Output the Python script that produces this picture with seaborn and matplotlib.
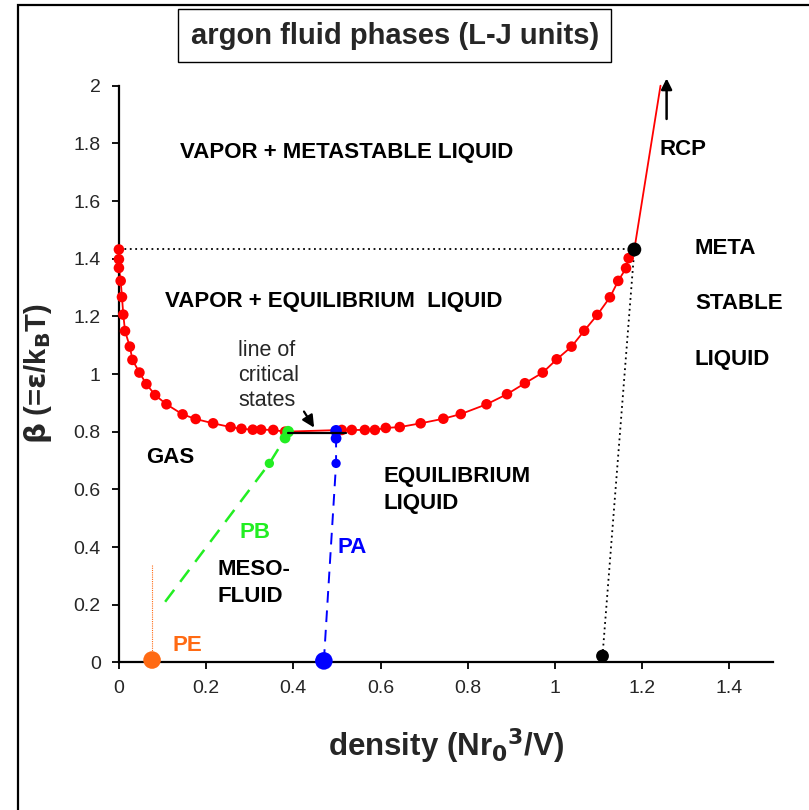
import matplotlib
matplotlib.use("Agg")
import matplotlib.pyplot as plt
from matplotlib.patches import Rectangle
import seaborn as sns

# coexistence curve dots (density, beta)
coex_x = [0.0, 0.0, 0.0, 0.004, 0.007, 0.010, 0.014, 0.025, 0.031, 0.047, 0.063,
          0.083, 0.109, 0.146, 0.176, 0.216, 0.256, 0.281, 0.307, 0.326, 0.354, 0.381,
          0.511, 0.534, 0.564, 0.587, 0.612, 0.644, 0.692, 0.744, 0.784, 0.843,
          0.890, 0.931, 0.972, 1.004, 1.038, 1.067, 1.097, 1.126, 1.145, 1.163, 1.169]
coex_y = [1.432, 1.398, 1.368, 1.323, 1.267, 1.206, 1.149, 1.095, 1.049, 1.005, 0.965,
          0.927, 0.895, 0.860, 0.844, 0.829, 0.816, 0.810, 0.807, 0.807, 0.806, 0.800,
          0.806, 0.806, 0.806, 0.806, 0.813, 0.816, 0.829, 0.845, 0.861, 0.895,
          0.930, 0.968, 1.005, 1.051, 1.095, 1.150, 1.205, 1.266, 1.323, 1.367, 1.402]

# vapour branch up to beta=2 and the RCP branch
vap_top_x = [0.0, 0.0]
vap_top_y = [2.0, 1.432]
rcp_x = [1.169, 1.182, 1.242]
rcp_y = [1.402, 1.432, 2.0]

# triple-ish point and metastable limit
tp_x, tp_y = 1.182, 1.432
meta_end_x, meta_end_y = 1.109, 0.022

# percolation lines
pb_x = [0.106, 0.345, 0.381, 0.388]
pb_y = [0.21, 0.69, 0.778, 0.80]
pa_x = [0.470, 0.498, 0.498, 0.498]
pa_y = [0.005, 0.69, 0.777, 0.803]
pe_x = [0.076, 0.076]
pe_y = [0.337, 0.008]

# line of critical states
crit_x = [0.388, 0.521]
crit_y = [0.797, 0.797]

sns.set_style("ticks")
plt.rcParams['font.family'] = ['Liberation Sans', 'DejaVu Sans']

RED = '#ff0000'
GREEN = '#22ee22'
BLUE = '#0000ff'
ORANGE = '#ff6a13'

fig = plt.figure(figsize=(8.09, 8.10), dpi=100)
ax = fig.add_axes([0.147, 0.1823, 0.8085, 0.7119])

# red coexistence curve
sns.lineplot(x=vap_top_x + coex_x + rcp_x[1:], y=vap_top_y + coex_y + rcp_y[1:], ax=ax,
             color=RED, lw=1.3, sort=False, estimator=None, clip_on=False)
sns.scatterplot(x=coex_x, y=coex_y, ax=ax, color=RED, s=58, edgecolor='none',
                zorder=4, clip_on=False)

# dotted guides
sns.lineplot(x=[0.0, tp_x], y=[tp_y, tp_y], ax=ax, color='black', lw=1.3,
             linestyle=(0, (1, 2)), sort=False, estimator=None)
sns.lineplot(x=[tp_x, meta_end_x], y=[tp_y, meta_end_y], ax=ax, color='black', lw=1.3,
             linestyle=(0, (1, 2)), sort=False, estimator=None)
sns.scatterplot(x=[tp_x, meta_end_x], y=[tp_y, meta_end_y], ax=ax, color='black',
                s=[100, 85], edgecolor='none', zorder=5, clip_on=False, legend=False)

# PB (green)
sns.lineplot(x=pb_x, y=pb_y, ax=ax, color=GREEN, lw=1.8, linestyle=(0, (6, 4)),
             sort=False, estimator=None)
sns.scatterplot(x=pb_x[1:], y=pb_y[1:], ax=ax, color=GREEN, s=[45, 60, 70],
                edgecolor='none', zorder=5, legend=False)

# PA (blue)
sns.lineplot(x=pa_x, y=pa_y, ax=ax, color=BLUE, lw=1.4, linestyle=(0, (6, 4)),
             sort=False, estimator=None)
sns.scatterplot(x=pa_x, y=pa_y, ax=ax, color=BLUE, s=[160, 45, 60, 70],
                edgecolor='none', zorder=5, clip_on=False, legend=False)

# PE (orange)
ax.plot(pe_x, pe_y, color=ORANGE, lw=0.8, linestyle=(0, (1, 1)))
sns.scatterplot(x=[pe_x[0]], y=[0.008], ax=ax, color=ORANGE, s=160,
                edgecolor='none', zorder=5, clip_on=False, legend=False)

# line of critical states
ax.plot(crit_x, crit_y, color='black', lw=1.6, zorder=6)
ax.annotate('', xy=(0.451, 0.806), xytext=(0.421, 0.878),
            arrowprops=dict(arrowstyle='-|>', color='black', lw=1.6, mutation_scale=18))
ax.annotate('', xy=(1.256, 2.035), xytext=(1.256, 1.875), annotation_clip=False,
            arrowprops=dict(arrowstyle='-|>', color='black', lw=1.8, mutation_scale=16))

ax.set_xlim(0, 1.5)
ax.set_ylim(0, 2)
ax.set_xticks([0, 0.2, 0.4, 0.6, 0.8, 1.0, 1.2, 1.4])
ax.set_xticklabels(['0', '0.2', '0.4', '0.6', '0.8', '1', '1.2', '1.4'])
ax.set_yticks([0, 0.2, 0.4, 0.6, 0.8, 1.0, 1.2, 1.4, 1.6, 1.8, 2.0])
ax.set_yticklabels(['0', '0.2', '0.4', '0.6', '0.8', '1', '1.2', '1.4', '1.6', '1.8', '2'])
ax.tick_params(direction='out', length=5, width=1.3, labelsize=14, pad=8, color='black')
sns.despine(ax=ax)
for s in ['left', 'bottom']:
    ax.spines[s].set_linewidth(1.6)
    ax.spines[s].set_color('black')

ax.set_xlabel(r'density (Nr$_\mathbf{0}$$^\mathbf{3}$/V)', fontsize=22.5, fontweight='bold', labelpad=21)
ax.set_ylabel(r'$\mathbf{\beta}$ (=$\mathbf{\varepsilon}$/k$_\mathbf{B}$T)', fontsize=21,
              fontweight='bold', labelpad=14)

lab = dict(fontsize=16, fontweight='bold', color='black')
ax.text(0.523, 1.767, 'VAPOR + METASTABLE LIQUID', ha='center', va='center', **lab)
ax.text(0.493, 1.25, 'VAPOR + EQUILIBRIUM  LIQUID', ha='center', va='center', **lab)
ax.text(0.273, 0.995, 'line of\ncritical\nstates', ha='left', va='center', fontsize=15.5,
        linespacing=1.27, multialignment='left')
ax.text(0.117, 0.712, 'GAS', ha='center', va='center', **lab)
ax.text(0.606, 0.597, 'EQUILIBRIUM\nLIQUID', ha='left', va='center', linespacing=1.4, **lab)
ax.text(0.227, 0.275, 'MESO-\nFLUID', ha='left', va='center', linespacing=1.4, **lab)
ax.text(0.312, 0.449, 'PB', ha='center', va='center', fontsize=16, fontweight='bold', color=GREEN)
ax.text(0.534, 0.397, 'PA', ha='center', va='center', fontsize=16, fontweight='bold', color=BLUE)
ax.text(0.156, 0.06, 'PE', ha='center', va='center', fontsize=16, fontweight='bold', color=ORANGE)
ax.text(1.239, 1.777, 'RCP', ha='left', va='center', **lab)
ax.text(1.321, 1.437, 'META', ha='left', va='center', **lab)
ax.text(1.321, 1.246, 'STABLE', ha='left', va='center', **lab)
ax.text(1.321, 1.049, 'LIQUID', ha='left', va='center', **lab)

fig.text(0.488, 0.956, 'argon fluid phases (L-J units)', ha='center', va='center',
         fontsize=21, fontweight='bold',
         bbox=dict(boxstyle='square,pad=0.42', fc='white', ec='black', lw=1.0))

fig.patches.append(Rectangle((18 / 809, -0.5), 5, 1.5 - 5 / 810, transform=fig.transFigure,
                             fill=False, ec='black', lw=1.6, figure=fig))

fig.savefig('out.png', dpi=100)
